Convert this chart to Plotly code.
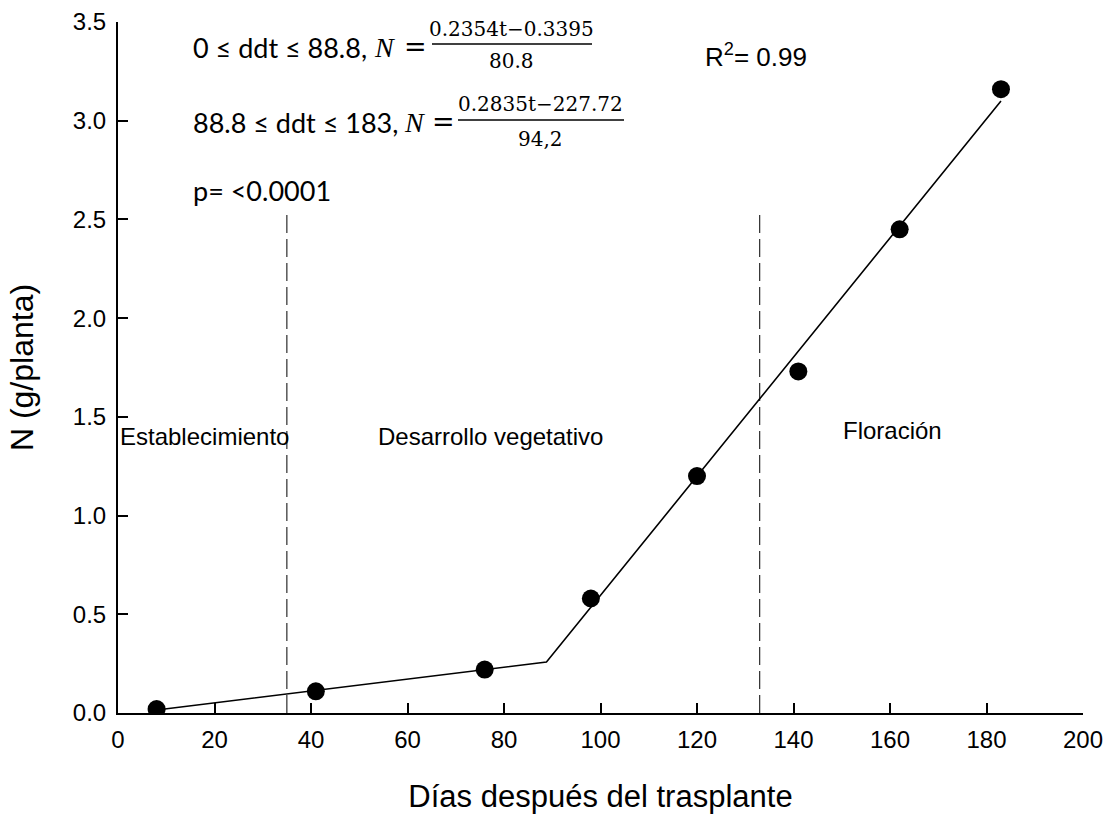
import plotly.graph_objects as go

# Observed data
dias = [8, 41, 76, 98, 120, 141, 162, 183]
nitrogeno = [0.02, 0.11, 0.22, 0.58, 1.20, 1.73, 2.45, 3.16]

# Segmented fit (breakpoint at 88.8 ddt)
fit_x = [8, 88.8, 183]
fit_y = [0.015, 0.258, 3.10]

# Phase boundaries (dashed lines) and labels
phase_x = [35, 133]
phase_top = 2.53
phase_labels = ["Establecimiento", "Desarrollo vegetativo", "Floración"]
phase_label_x = [17.9, 77.3, 160.6]
phase_label_y = [1.40, 1.40, 1.43]

x_ticks = [0, 20, 40, 60, 80, 100, 120, 140, 160, 180, 200]
y_ticks = [0.0, 0.5, 1.0, 1.5, 2.0, 2.5, 3.0, 3.5]

W, H = 1109, 816
L, R, T, B = 118, 26, 22, 103
X0, X1, Y0, Y1 = 0, 200, 0, 3.5


def px2x(px):
    return X0 + (px - L) / (W - L - R) * (X1 - X0)


def px2y(py):
    return Y0 + (H - B - py) / (H - T - B) * (Y1 - Y0)


fig = go.Figure()

fig.add_trace(go.Scatter(x=fit_x, y=fit_y, mode="lines",
                         line=dict(color="black", width=1.6),
                         showlegend=False, hoverinfo="skip"))
fig.add_trace(go.Scatter(x=dias, y=nitrogeno, mode="markers",
                         marker=dict(color="black", size=18),
                         showlegend=False))

for px_ in phase_x:
    fig.add_shape(type="line", x0=px_, x1=px_, y0=0, y1=phase_top,
                  xref="x", yref="y",
                  line=dict(color="black", width=1, dash="18px,6px"))

label_font = dict(family="Liberation Sans, Arial", size=24, color="black")
for lbl, lx, ly in zip(phase_labels, phase_label_x, phase_label_y):
    fig.add_annotation(x=lx, y=ly, xref="x", yref="y", text=lbl,
                       showarrow=False, font=label_font,
                       xanchor="center", yanchor="middle")

eq_font = dict(family="Lato, Open Sans, sans-serif", size=27, color="black")
n_font = dict(family="Liberation Serif, serif", size=28, color="black")
eqsign_font = dict(family="DejaVu Serif, serif", size=27, color="black")
frac_font = dict(family="DejaVu Serif, serif", size=20, color="black")


def ann(px, py, text, font, xanchor="left"):
    fig.add_annotation(x=px2x(px), y=px2y(py), xref="x", yref="y", text=text,
                       showarrow=False, font=font, xanchor=xanchor, yanchor="middle")


# Equation 1
ann(191, 47, "0 ≤ ddt ≤ 88.8,", eq_font)
ann(372, 47, "<i>N</i>", n_font)
ann(415, 46, "=", eqsign_font, "center")
ann(511, 29, "0.2354t−0.3395", frac_font, "center")
fig.add_shape(type="line", x0=px2x(432), x1=px2x(592), y0=px2y(44), y1=px2y(44),
              xref="x", yref="y", line=dict(color="black", width=1.5))
ann(511, 61, "80.8", frac_font, "center")

# Equation 2
ann(191, 122, "88.8 ≤ ddt ≤ 183,", eq_font)
ann(402, 122, "<i>N</i>", n_font)
ann(443, 121, "=", eqsign_font, "center")
ann(540, 104, "0.2835t−227.72", frac_font, "center")
fig.add_shape(type="line", x0=px2x(458), x1=px2x(624), y0=px2y(120), y1=px2y(120),
              xref="x", yref="y", line=dict(color="black", width=1.5))
ann(540, 139, "94,2", frac_font, "center")

# p value and R2
ann(191, 190, "p= &lt;0.0001", eq_font)
ann(703, 55, "R<sup>2</sup>= 0.99", dict(family="Liberation Sans, Arial", size=26, color="black"))

axis_font = dict(family="Liberation Sans, Arial", size=24, color="black")
fig.update_xaxes(range=[X0, X1], tickvals=x_ticks, ticktext=[str(v) for v in x_ticks],
                 ticks="inside", ticklen=10, tickwidth=2, tickcolor="black",
                 showline=True, linecolor="black", linewidth=2,
                 showgrid=False, zeroline=False, tickfont=axis_font,
                 ticklabelstandoff=4, automargin=False,
                 title=dict(text="Días después del trasplante",
                            font=dict(family="Liberation Sans, Arial", size=31, color="black"),
                            standoff=34))
fig.update_yaxes(range=[Y0, Y1], tickvals=y_ticks, ticktext=[f"{v:.1f}" for v in y_ticks],
                 ticks="inside", ticklen=10, tickwidth=2, tickcolor="black",
                 showline=True, linecolor="black", linewidth=2,
                 showgrid=False, zeroline=False, tickfont=axis_font,
                 ticklabelstandoff=5, automargin=False,
                 title=dict(text="N (g/planta)",
                            font=dict(family="Liberation Sans, Arial", size=32, color="black"),
                            standoff=30))

fig.update_layout(width=W, height=H, margin=dict(l=L, r=R, t=T, b=B, autoexpand=False),
                  plot_bgcolor="white", paper_bgcolor="white", showlegend=False)

fig.write_html("out.html")
